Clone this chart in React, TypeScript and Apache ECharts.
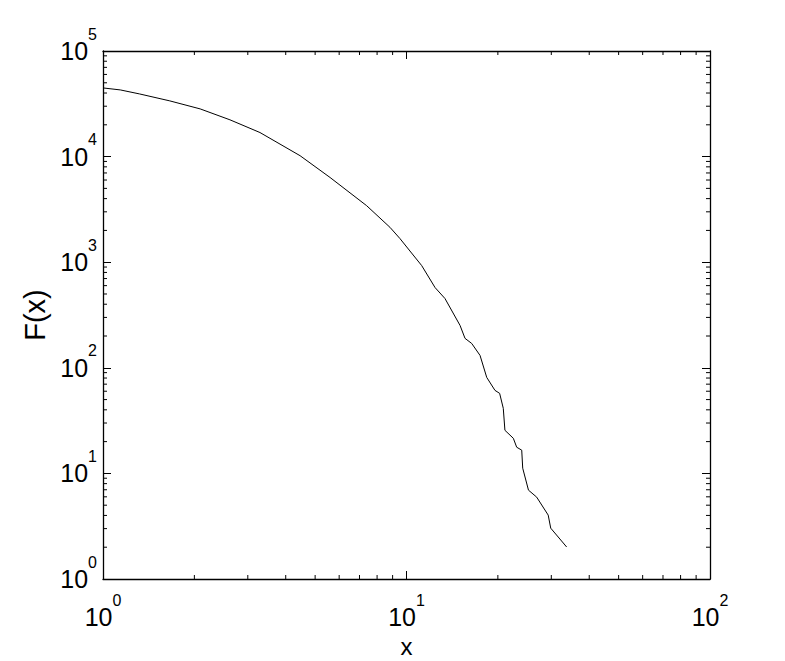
import React, { useEffect, useRef } from 'react';
import * as echarts from 'echarts';

const xValues = [1.0, 1.14, 1.32, 1.66, 2.09, 2.62, 3.29, 4.46, 5.6, 7.39, 8.82, 9.52, 11.22, 12.42, 13.39, 15.01, 15.59, 16.4, 17.47, 18.38, 19.57, 20.27, 20.84, 21.1, 22.49, 23.07, 23.97, 24.15, 25.23, 26.85, 29.3, 29.87, 33.7];
const fValues = [44700, 42800, 39200, 33700, 28300, 22300, 16900, 10200, 6340, 3430, 2140, 1671, 929, 575, 453, 252, 190, 170, 131, 81.1, 61.1, 57.3, 41.3, 25.6, 21.5, 17.7, 16.6, 11.2, 6.94, 5.96, 4.03, 3.03, 2.01];

const xMin = 1;
const xMax = 100;
const yMin = 1;
const yMax = 100000;
const xMinorTicks = [2, 3, 4, 5, 6, 7, 8, 9, 20, 30, 40, 50, 60, 70, 80, 90];
const yMinorTicks = [
  2, 3, 4, 5, 6, 7, 8, 9,
  20, 30, 40, 50, 60, 70, 80, 90,
  200, 300, 400, 500, 600, 700, 800, 900,
  2000, 3000, 4000, 5000, 6000, 7000, 8000, 9000,
  20000, 30000, 40000, 50000, 60000, 70000, 80000, 90000,
];

const FONT = 'Liberation Sans, Arial, Helvetica, sans-serif';
const MINOR = 4;
const MAJOR = 8;

const expLabel = (v: number) => `{b|10}{e|${Math.round(Math.log10(v))}}`;

const richStyle = {
  b: { fontSize: 25, fontFamily: FONT, color: '#000', lineHeight: 50 },
  e: { fontSize: 16, fontFamily: FONT, color: '#000', lineHeight: 16, verticalAlign: 'top' },
};

const lineStyle = { color: '#000', width: 1.3 };

export default function App() {
  const ref = useRef<HTMLDivElement>(null);
  useEffect(() => {
    if (!ref.current) return;
    const chart = echarts.init(ref.current, null, { renderer: 'svg' });
    const baseAxis = {
      type: 'log' as const,
      logBase: 10,
      splitLine: { show: false },
      axisLine: { show: true, lineStyle },
      axisTick: { show: true, inside: true, length: MAJOR, lineStyle: { color: '#000', width: 1 } },
    };
    chart.setOption({
      animation: false,
      backgroundColor: '#fff',
      grid: { left: 103, top: 51, width: 607, height: 528, containLabel: false, outerBoundsMode: 'none' },
      xAxis: [
        {
          ...baseAxis,
          min: xMin,
          max: xMax,
          position: 'bottom',
          name: 'x',
          nameLocation: 'middle',
          nameGap: 55,
          nameTextStyle: { fontSize: 24, lineHeight: 24, fontFamily: FONT, color: '#000' },
          axisLabel: { show: true, margin: 13, formatter: expLabel, rich: richStyle },
        },
        {
          ...baseAxis,
          min: xMin,
          max: xMax,
          position: 'top',
          axisLabel: { show: false },
        },
      ],
      yAxis: [
        {
          ...baseAxis,
          min: yMin,
          max: yMax,
          position: 'left',
          name: 'F(x)',
          nameLocation: 'middle',
          nameGap: 48,
          nameTextStyle: { fontSize: 29, fontFamily: FONT, color: '#000' },
          axisLabel: { show: true, margin: 6, formatter: expLabel, rich: richStyle },
        },
        {
          ...baseAxis,
          min: yMin,
          max: yMax,
          position: 'right',
          axisLabel: { show: false },
        },
      ],
      series: [
        {
          type: 'line',
          data: xValues.map((x, i) => [x, fValues[i]]),
          showSymbol: false,
          symbol: 'none',
          lineStyle: { color: '#000', width: 1 },
          silent: true,
        },
        {
          type: 'custom',
          silent: true,
          clip: false,
          data: xMinorTicks.map((v) => [v, yMin]),
          renderItem: (params: any, api: any) => {
            const v = api.value(0);
            const b = api.coord([v, yMin]);
            const t = api.coord([v, yMax]);
            return {
              type: 'group',
              children: [
                { type: 'line', shape: { x1: b[0], y1: b[1], x2: b[0], y2: b[1] - MINOR }, style: { stroke: '#000', lineWidth: 1 } },
                { type: 'line', shape: { x1: t[0], y1: t[1], x2: t[0], y2: t[1] + MINOR }, style: { stroke: '#000', lineWidth: 1 } },
              ],
            };
          },
        },
        {
          type: 'custom',
          silent: true,
          clip: false,
          data: yMinorTicks.map((v) => [xMin, v]),
          renderItem: (params: any, api: any) => {
            const v = api.value(1);
            const l = api.coord([xMin, v]);
            const r = api.coord([xMax, v]);
            return {
              type: 'group',
              children: [
                { type: 'line', shape: { x1: l[0], y1: l[1], x2: l[0] + MINOR, y2: l[1] }, style: { stroke: '#000', lineWidth: 1 } },
                { type: 'line', shape: { x1: r[0], y1: r[1], x2: r[0] - MINOR, y2: r[1] }, style: { stroke: '#000', lineWidth: 1 } },
              ],
            };
          },
        },
      ],
    });
    return () => chart.dispose();
  }, []);
  return (
    <div
      ref={ref}
      style={{ position: 'fixed', left: 0, top: 0, width: 785, height: 661, background: '#fff' }}
    />
  );
}
